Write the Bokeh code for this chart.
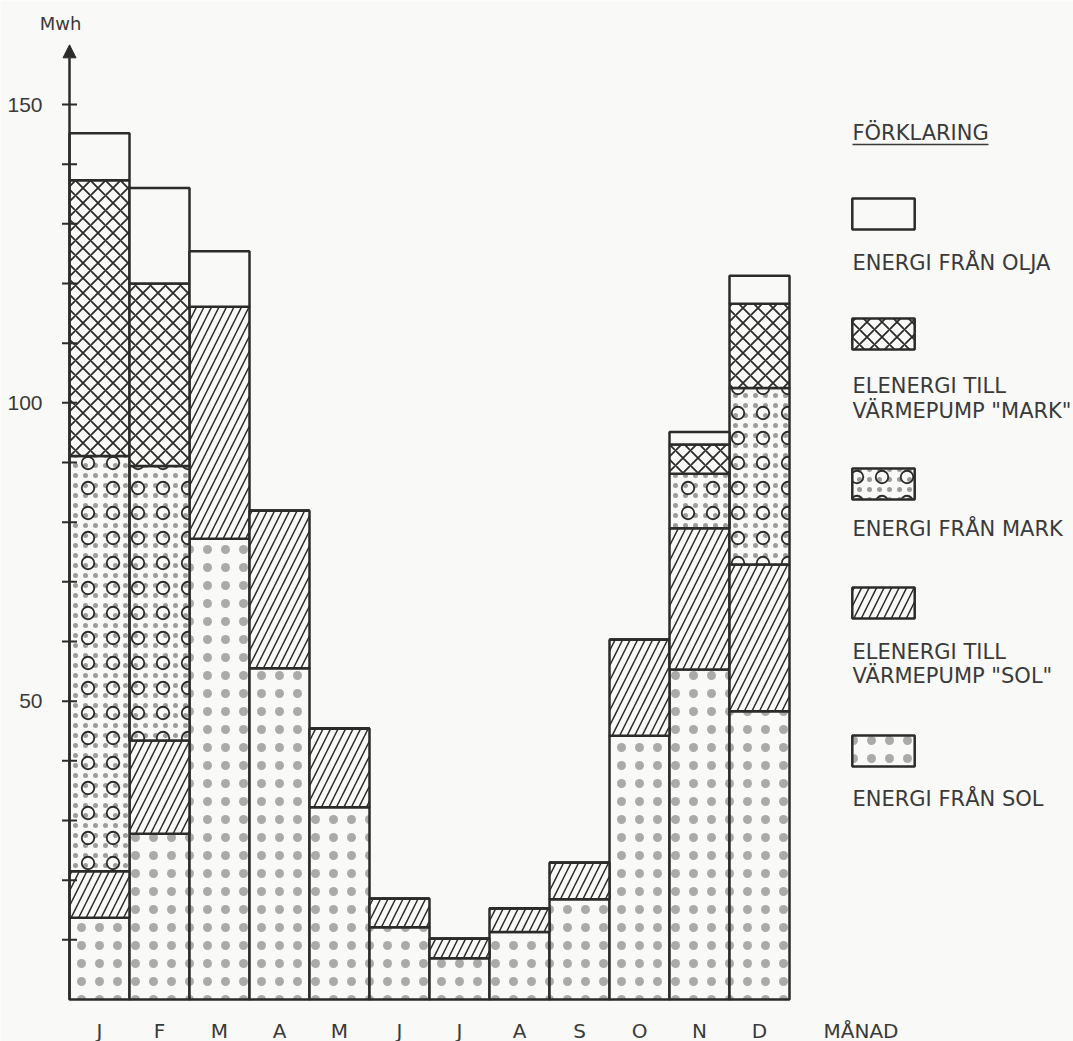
import numpy as np
from bokeh.plotting import figure
from bokeh.models import ColumnDataSource, Label, Arrow, NormalHead, Legend, LegendItem, Range1d
from bokeh.core.properties import value
from bokeh.embed import file_html
from bokeh.resources import INLINE

# ---------------- data ----------------
months = ["J", "F", "M", "A", "M", "J", "J", "A", "S", "O", "N", "D"]
energi_sol = [13.7, 27.8, 77.2, 55.5, 32.2, 12.1, 6.9, 11.3, 16.8, 44.2, 55.3, 48.3]
el_varmepump_sol = [7.8, 15.6, 38.9, 26.4, 13.2, 4.8, 3.3, 4.0, 6.1, 16.1, 23.7, 24.6]
energi_mark = [69.6, 46.0, 0, 0, 0, 0, 0, 0, 0, 0, 9.1, 29.6]
el_varmepump_mark = [46.2, 30.6, 0, 0, 0, 0, 0, 0, 0, 0, 4.9, 14.1]
energi_olja = [7.9, 16.0, 9.3, 0, 0, 0, 0, 0, 0, 0, 2.1, 4.7]

y_ticks = [10, 20, 30, 40, 50, 60, 70, 80, 90, 100, 110, 120, 130, 140, 150]
y_tick_labels = {50: "50", 100: "100", 150: "150"}
y_axis_top = 160
y_title = "Mwh"
x_title = "MÅNAD"
legend_title = "FÖRKLARING"
legend_texts = [
    ["ENERGI FRÅN OLJA"],
    ["ELENERGI TILL", "VÄRMEPUMP \"MARK\""],
    ["ENERGI FRÅN MARK"],
    ["ELENERGI TILL", "VÄRMEPUMP \"SOL\""],
    ["ENERGI FRÅN SOL"],
]

# ---------------- styling ----------------
BG = "#f9f9f7"
INK = "#2b2b2b"
TXT = "#3a3a3a"
FONT = "DejaVu Sans"
LW = 2.5

W, H = 1073, 1041
AXIS_X = 69            # canvas x of the value axis
BASE_Y = 999           # canvas y of value 0
PX_X = 60              # pixels per month
PX_Y = 895 / 150       # pixels per MWh

x = np.arange(len(months)) + 0.5
layers = [energi_sol, el_varmepump_sol, energi_mark, el_varmepump_mark, energi_olja]
data = {"x": x}
cum = np.zeros(len(months))
for i, layer in enumerate(layers):
    data[f"b{i}"] = cum.copy()
    cum = cum + np.array(layer, dtype=float)
    data[f"t{i}"] = cum.copy()
src = ColumnDataSource(data)

p = figure(width=W, height=H,
           x_range=Range1d(-AXIS_X / PX_X, (W - AXIS_X) / PX_X),
           y_range=Range1d(-(H - BASE_Y) / PX_Y, BASE_Y / PX_Y),
           x_axis_location=None, y_axis_location=None,
           output_backend="svg", toolbar_location=None,
           min_border=0, background_fill_color=BG, border_fill_color=BG,
           outline_line_color=None)
p.grid.visible = False

common = dict(x="x", width=1.0, source=src)
r_sol = p.vbar(bottom="b0", top="t0", fill_color=BG, hatch_pattern=".", hatch_scale=18,
               hatch_weight=0.1, hatch_color=INK, hatch_alpha=0.38,
               line_color=INK, line_width=LW, **common)
r_elsol = p.vbar(bottom="b1", top="t1", fill_color=BG, hatch_pattern="/", hatch_scale=15,
                 hatch_weight=1.5, hatch_color=INK, line_color=INK, line_width=LW, **common)
r_mark_dots = p.vbar(bottom="b2", top="t2", fill_color=BG, hatch_pattern=".",
                     hatch_scale=10, hatch_weight=0.1, hatch_color=INK, hatch_alpha=0.45,
                     line_color=None, **common)
r_mark_tri = p.vbar(bottom="b2", top="t2", fill_alpha=0, hatch_pattern="o",
                    hatch_scale=25, hatch_weight=1.8, hatch_color=INK,
                    line_color=INK, line_width=LW, **common)
r_elmark = p.vbar(bottom="b3", top="t3", fill_color=BG, hatch_pattern="x", hatch_scale=15,
                  hatch_weight=1.8, hatch_color=INK, line_color=INK, line_width=LW, **common)
r_olja = p.vbar(bottom="b4", top="t4", fill_color=BG, line_color=INK, line_width=LW,
                **common)

# ---------------- value axis (drawn with the plot's own scales) ----------------
p.add_layout(Arrow(end=NormalHead(size=13, fill_color=INK, line_color=INK, line_width=1),
                   x_start=0, y_start=0, x_end=0, y_end=y_axis_top,
                   line_color=INK, line_width=2.5))
tick_src = ColumnDataSource(dict(x=[0] * len(y_ticks), y=y_ticks))
p.scatter(x="x", y="y", source=tick_src, marker="dash", size=15, line_color=INK,
          line_width=2)
lab_vals = list(y_tick_labels.keys())
lab_src = ColumnDataSource(dict(x=[0] * len(lab_vals), y=lab_vals,
                                text=[y_tick_labels[v] for v in lab_vals]))
p.text(x="x", y="y", text="text", source=lab_src, x_offset=-27, text_align="right",
       text_baseline="middle", text_font=value("Liberation Sans"),
       text_font_size=value("21px"), text_color=TXT)

# month labels
mon_src = ColumnDataSource(dict(x=x, y=[0] * len(months), text=months))
p.text(x="x", y="y", text="text", source=mon_src, y_offset=31, text_align="center",
       text_baseline="middle", text_font=value(FONT), text_font_size=value("20px"),
       text_color=TXT)


def canvas_label(text, cx, cy, size="21px", align="left"):
    """cx, cy: canvas pixel positions (from top-left)."""
    p.add_layout(Label(x=cx, y=H - cy, x_units="screen", y_units="screen",
                       text=text, text_font=FONT, text_font_size=size,
                       text_color=TXT, text_align=align, text_baseline="middle"))


canvas_label(y_title, 60, 23, size="18px", align="center")
canvas_label(x_title, 823, 1030, size="20px")

# ---------------- legend ----------------
LX = 852
canvas_label(legend_title, LX, 132)
p.add_layout(Arrow(start=None, end=None, x_start=LX, x_end=988,
                   y_start=H - 144, y_end=H - 144, start_units="screen",
                   end_units="screen", line_color=TXT, line_width=1.5))

swatches = [
    ([r_olja], 229),
    ([r_elmark], 349),
    ([r_mark_dots, r_mark_tri], 499),
    ([r_elsol], 618),
    ([r_sol], 766),
]
text_rows = [[262], [385, 410], [528], [651, 675], [798]]
GW, GH = 62 / 0.8, 31 / 0.8
for (rends, bot_px), texts, rows in zip(swatches, legend_texts, text_rows):
    lg = Legend(items=[LegendItem(label=" ", renderers=rends)],
                location=(LX - 0.1 * GW, H - bot_px - 0.1 * GH),
                glyph_width=int(round(GW)), glyph_height=int(round(GH)),
                padding=0, margin=0, spacing=0, label_standoff=0, label_width=1,
                label_text_font_size="1px",
                border_line_color=None, background_fill_alpha=0)
    p.add_layout(lg)
    for t, ry in zip(texts, rows):
        canvas_label(t, LX, ry)

open("out.html", "w").write(file_html(p, INLINE))
